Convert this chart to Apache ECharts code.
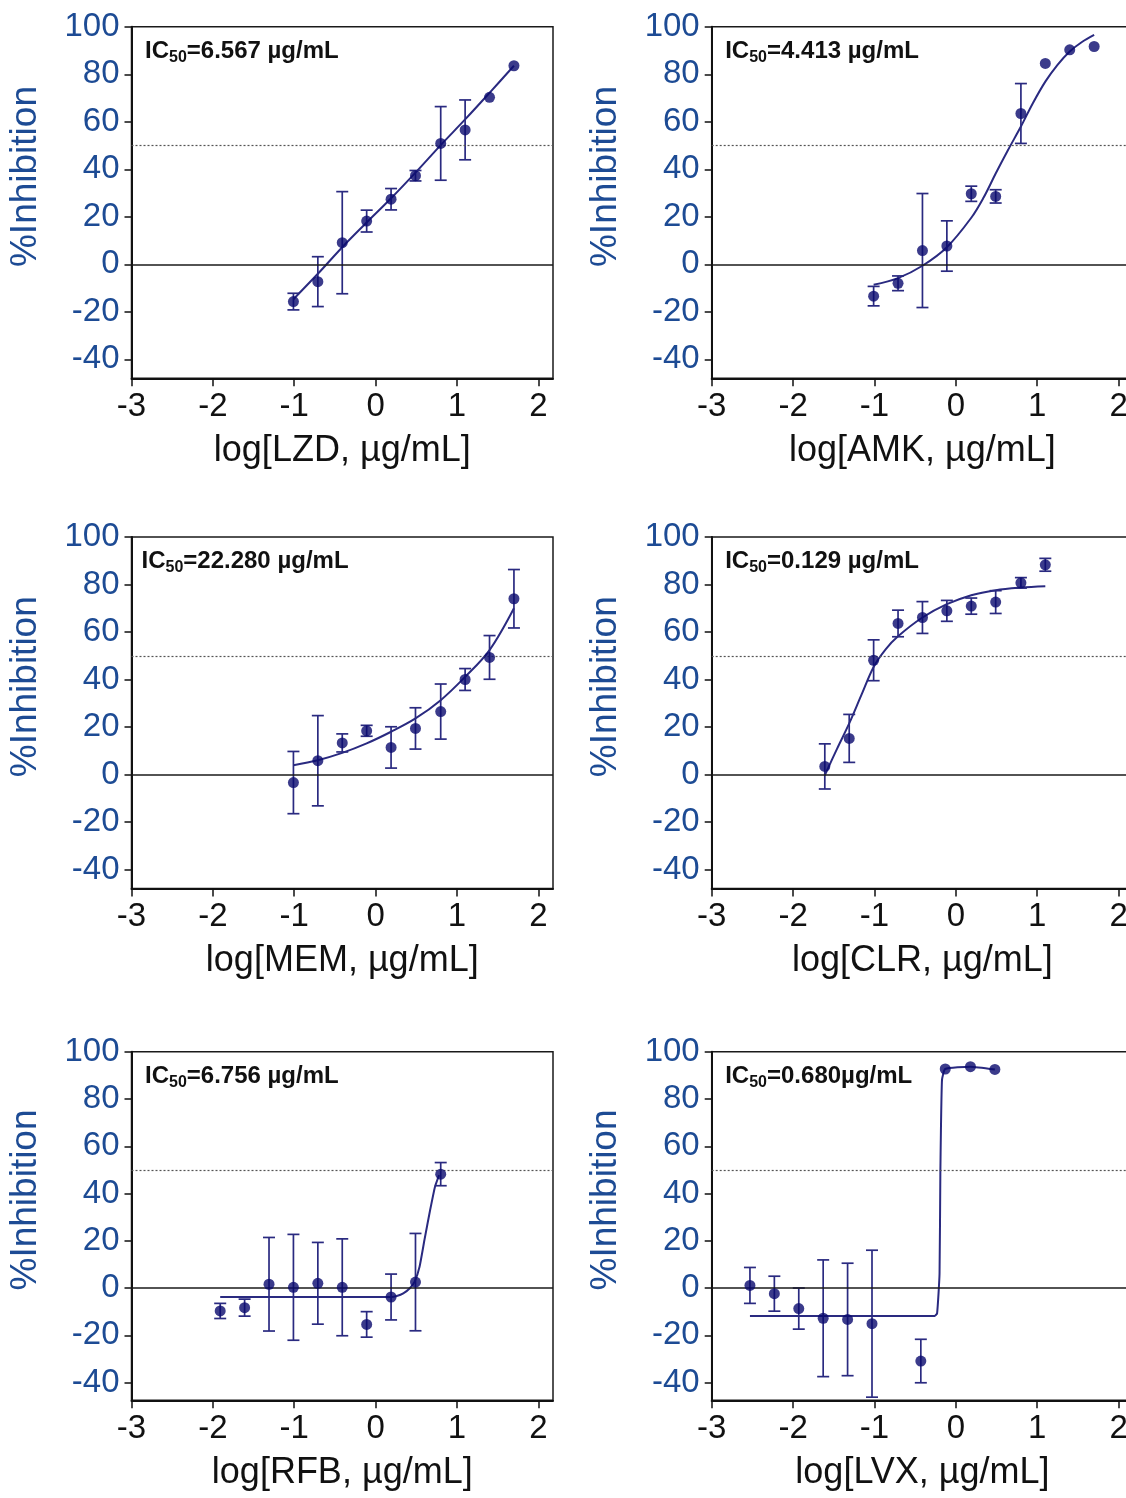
<!DOCTYPE html>
<html>
<head>
<meta charset="utf-8">
<script src="https://cdn.jsdelivr.net/npm/echarts@6/dist/echarts.min.js"></script>
<style>
html,body{margin:0;padding:0;background:#fff;overflow:hidden;width:1126px;height:1498px;}
#c{width:1140px;height:1498px;}
</style>
</head>
<body>
<div id="c"></div>
<script>
// ---------- DATA ----------
const xTicks = [-3, -2, -1, 0, 1, 2];
const yTicks = [-40, -20, 0, 20, 40, 60, 80, 100];

// LZD
const lzdX   = [-1.01, -0.71, -0.41, -0.11, 0.19, 0.49, 0.80, 1.10, 1.40, 1.70];
const lzdY   = [-15.7, -7.3, 9.1, 18.2, 27.4, 37.3, 50.9, 56.6, 70.3, 83.6];
const lzdErr = [3.5, 10.5, 21.5, 4.6, 4.5, 2.2, 15.5, 12.6, 0, 0];
const lzdFitX = [-1.01, -0.71, -0.41, -0.11, 0.19, 0.49, 0.80, 1.10, 1.40, 1.70];
const lzdFitY = [-14.7, -4.0, 7.2, 17.6, 27.8, 38.6, 50.2, 61.0, 72.2, 83.6];
const lzdIC50 = '6.567 µg/mL';

// AMK
const amkX   = [-1.01, -0.71, -0.41, -0.11, 0.19, 0.49, 0.80, 1.10, 1.40, 1.70];
const amkY   = [-13.4, -8.0, 5.8, 7.7, 29.7, 28.6, 63.5, 84.6, 90.3, 91.7];
const amkErr = [4.1, 3.1, 24.0, 10.6, 3.2, 2.8, 12.6, 0, 0, 0];
const amkFitX = [-1.01, -0.71, -0.41, -0.11, 0.19, 0.34, 0.49, 0.64, 0.80, 0.95, 1.10, 1.25, 1.40, 1.55, 1.70];
const amkFitY = [-8.6, -5.8, -0.6, 7.2, 19.6, 28.0, 38.2, 48.0, 58.0, 68.0, 76.9, 84.0, 89.6, 93.6, 96.6];
const amkIC50 = '4.413 µg/mL';

// MEM
const memX   = [-1.01, -0.71, -0.41, -0.11, 0.19, 0.49, 0.80, 1.10, 1.40, 1.70];
const memY   = [-3.4, 5.8, 13.3, 18.4, 11.4, 19.4, 26.5, 40.0, 49.3, 74.0];
const memErr = [13.1, 19.0, 3.8, 2.3, 8.7, 8.7, 11.6, 4.6, 9.2, 12.3];
const memFitX = [-1.01, -0.71, -0.41, -0.11, 0.19, 0.49, 0.80, 1.10, 1.40, 1.70];
const memFitY = [3.9, 6.0, 9.1, 13.1, 18.0, 23.6, 31.3, 41.1, 52.4, 70.0];
const memIC50 = '22.280 µg/mL';

// CLR
const clrX   = [-1.61, -1.31, -1.01, -0.71, -0.41, -0.11, 0.19, 0.49, 0.80, 1.10];
const clrY   = [3.4, 15.2, 48.1, 63.6, 66.1, 68.9, 70.9, 72.6, 80.7, 88.3];
const clrErr = [9.5, 10.1, 8.6, 5.6, 6.7, 4.4, 3.4, 4.8, 2.2, 2.7];
const clrFitX = [-1.61, -1.46, -1.31, -1.16, -1.01, -0.86, -0.71, -0.41, -0.11, 0.19, 0.49, 0.80, 1.10];
const clrFitY = [-0.3, 10.8, 21.5, 33.5, 45.3, 52.8, 58.2, 66.1, 71.7, 75.5, 77.6, 78.7, 79.3];
const clrIC50 = '0.129 µg/mL';

// RFB
const rfbX   = [-1.91, -1.61, -1.31, -1.01, -0.71, -0.41, -0.11, 0.19, 0.49, 0.80];
const rfbY   = [-9.7, -8.3, 1.6, 0.3, 2.0, 0.3, -15.4, -3.8, 2.5, 48.2];
const rfbErr = [3.2, 3.6, 19.8, 22.4, 17.3, 20.5, 5.4, 9.7, 20.6, 4.9];
const rfbFitX = [-1.91, -1.0, 0.0, 0.19, 0.26, 0.34, 0.42, 0.48, 0.54, 0.60, 0.67, 0.73, 0.78];
const rfbFitY = [-3.8, -3.8, -3.8, -3.8, -3.4, -2.3, -0.1, 2.7, 9.0, 20.3, 33.0, 42.9, 47.8];
const rfbIC50 = '6.756 µg/mL';

// LVX
const lvxX   = [-2.53, -2.23, -1.93, -1.63, -1.33, -1.03, -0.43, -0.13, 0.18, 0.48];
const lvxY   = [1.1, -2.4, -8.7, -12.8, -13.3, -15.1, -30.9, 92.7, 93.7, 92.5];
const lvxErr = [7.6, 7.4, 8.7, 24.7, 23.8, 31.1, 9.2, 0, 0, 0];
const lvxFitX = [-2.53, -1.0, -0.26, -0.23, -0.20, -0.19, -0.17, -0.13, 0.18, 0.48];
const lvxFitY = [-11.8, -11.8, -11.8, -10.7, 6.0, 48.5, 88.0, 92.7, 93.7, 92.5];
const lvxIC50 = '0.680µg/mL';

const drugNames = ['LZD', 'AMK', 'MEM', 'CLR', 'RFB', 'LVX'];
const yName = '%Inhibition';

// ---------- LAYOUT / STYLE ----------
const panelData = [
  {x: lzdX, y: lzdY, e: lzdErr, fx: lzdFitX, fy: lzdFitY, ic: lzdIC50},
  {x: amkX, y: amkY, e: amkErr, fx: amkFitX, fy: amkFitY, ic: amkIC50},
  {x: memX, y: memY, e: memErr, fx: memFitX, fy: memFitY, ic: memIC50},
  {x: clrX, y: clrY, e: clrErr, fx: clrFitX, fy: clrFitY, ic: clrIC50},
  {x: rfbX, y: rfbY, e: rfbErr, fx: rfbFitX, fy: rfbFitY, ic: rfbIC50},
  {x: lvxX, y: lvxY, e: lvxErr, fx: lvxFitX, fy: lvxFitY, ic: lvxIC50}
];
const cols = [131.5, 711.7];
const plotW = 421.5;
const rows = [
  {top: 26.8, h: 351.5, min: -48},
  {top: 537, h: 351.5, min: -48},
  {top: 1051.75, h: 348.5, min: -47.5}
];
const xMin = -3, xMax = 2.18;
const FONT = '"Liberation Sans", Arial, Helvetica, sans-serif';
const BLUE = '#1d4b94';
const DOT = '#0a0a6e';
const LINE = '#2a2a80';

const grids = [], xAxes = [], yAxes = [], series = [], graphics = [];

panelData.forEach((p, i) => {
  const r = rows[Math.floor(i / 2)];
  const left = cols[i % 2];
  grids.push({
    left: left, top: r.top, width: plotW, height: r.h,
    show: true, borderColor: '#1a1a1a', borderWidth: 1.5, backgroundColor: 'transparent'
  });
  xAxes.push({
    type: 'value', gridIndex: i, min: xMin, max: xMax,
    name: 'log[' + drugNames[i] + ', µg/mL]', nameLocation: 'middle', nameGap: 55,
    nameTextStyle: {fontFamily: FONT, fontSize: 36, color: '#111'},
    axisLine: {onZero: false, lineStyle: {color: '#111', width: 2}},
    axisTick: {show: true, inside: false, length: 8, lineStyle: {color: '#111', width: 1.5}, customValues: xTicks},
    axisLabel: {fontFamily: FONT, fontSize: 33, color: '#111', margin: 12, customValues: xTicks},
    splitLine: {show: false}
  });
  yAxes.push({
    type: 'value', gridIndex: i, min: r.min, max: 100,
    axisLine: {onZero: false, lineStyle: {color: '#111', width: 2}},
    axisTick: {show: true, inside: false, length: 7, lineStyle: {color: '#111', width: 1.5}, customValues: yTicks},
    axisLabel: {fontFamily: FONT, fontSize: 33, color: BLUE, margin: 12, customValues: yTicks},
    splitLine: {show: false}
  });

  // fitted curve
  series.push({
    type: 'line', xAxisIndex: i, yAxisIndex: i,
    data: p.fx.map((v, k) => [v, p.fy[k]]),
    showSymbol: false, symbol: 'none', smooth: (i === 4 || i === 5) ? 0.15 : 0.35,
    lineStyle: {color: LINE, width: 2}, z: 3, silent: true,
    markLine: {
      silent: true, symbol: 'none', label: {show: false},
      data: [
        {yAxis: 0, lineStyle: {color: '#1a1a1a', width: 1.6, type: 'solid'}},
        {yAxis: 50, lineStyle: {color: '#555', width: 1.2, type: [2, 2]}}
      ]
    }
  });
  // error bars
  series.push({
    type: 'custom', xAxisIndex: i, yAxisIndex: i, z: 4, silent: true,
    data: p.x.map((v, k) => [v, p.y[k], p.e[k]]).filter(d => d[2] > 0),
    renderItem: function (params, api) {
      const x = api.value(0), y = api.value(1), e = api.value(2);
      const t = api.coord([x, y + e]);
      const b = api.coord([x, y - e]);
      const cw = 6;
      const st = {stroke: LINE, lineWidth: 1.7};
      return {type: 'group', children: [
        {type: 'line', shape: {x1: t[0], y1: t[1], x2: b[0], y2: b[1]}, style: st},
        {type: 'line', shape: {x1: t[0] - cw, y1: t[1], x2: t[0] + cw, y2: t[1]}, style: st},
        {type: 'line', shape: {x1: b[0] - cw, y1: b[1], x2: b[0] + cw, y2: b[1]}, style: st}
      ]};
    }
  });
  // points
  series.push({
    type: 'scatter', xAxisIndex: i, yAxisIndex: i, z: 5,
    data: p.x.map((v, k) => [v, p.y[k]]),
    symbol: 'circle', symbolSize: 11,
    itemStyle: {color: DOT}
  });

  // y axis title (rotated)
  graphics.push({
    type: 'text', x: left - 106, y: r.top + r.h / 2 - 26, rotation: Math.PI / 2, z: 10,
    style: {
      text: yName, fontFamily: FONT, fontSize: 37, fill: BLUE,
      align: 'center', verticalAlign: 'middle'
    }
  });

  // IC50 label
  const labLeft = left + ((i === 2) ? 10 : 13.5);
  graphics.push({
    type: 'text', left: labLeft, top: r.top + 10, z: 10,
    style: {
      text: '{a|IC}{s|50}{a|=' + p.ic + '}',
      rich: {
        a: {fontFamily: FONT, fontWeight: 'bold', fontSize: 24, fill: '#111', lineHeight: 26},
        s: {fontFamily: FONT, fontWeight: 'bold', fontSize: 16, fill: '#111', lineHeight: 17, padding: [13, 0, 0, 0]}
      }
    }
  });
});

const chart = echarts.init(document.getElementById('c'), null, {renderer: 'canvas'});
chart.setOption({
  backgroundColor: '#ffffff',
  animation: false,
  grid: grids,
  xAxis: xAxes,
  yAxis: yAxes,
  series: series,
  graphic: graphics
});
</script>
</body>
</html>
